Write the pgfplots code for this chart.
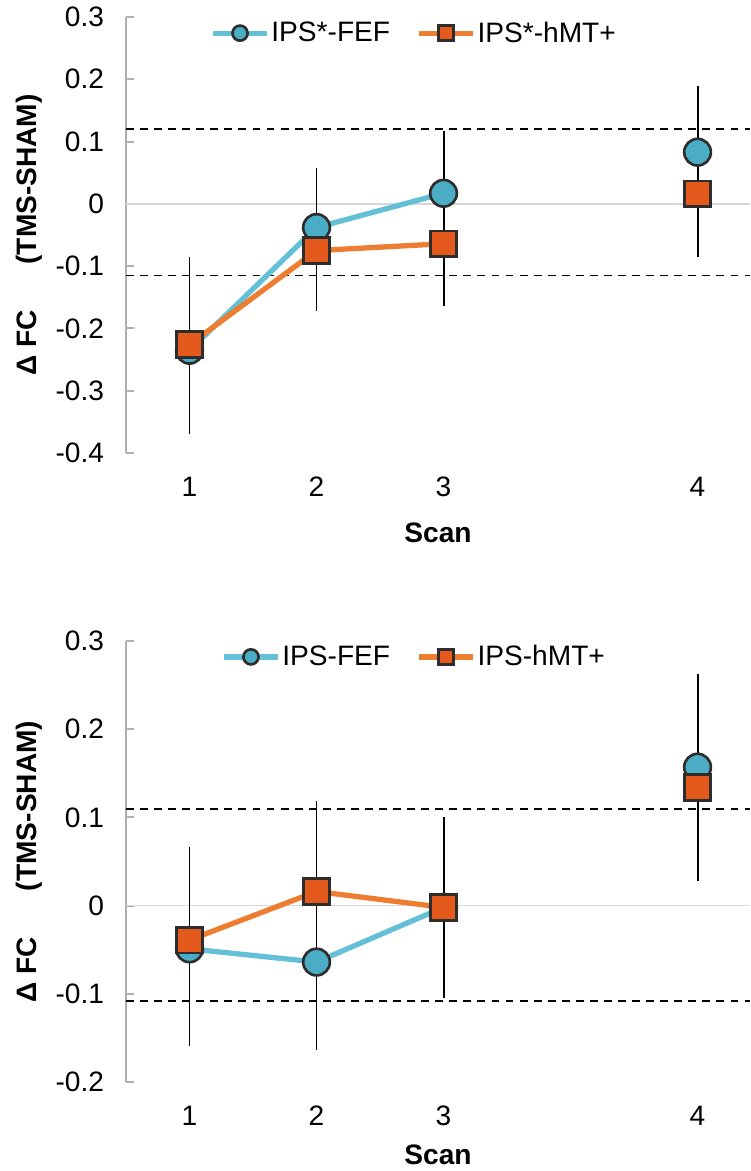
\documentclass[border=0pt]{standalone}
\usepackage{fontspec}
\setmainfont{Liberation Sans}
\usepackage{pgfplots}
\pgfplotsset{compat=1.18}
\definecolor{fefLine}{RGB}{99,192,214}
\definecolor{fefFill}{RGB}{75,172,198}
\definecolor{mtLine}{RGB}{237,125,49}
\definecolor{mtFill}{RGB}{228,90,28}
\definecolor{axGray}{RGB}{175,175,175}
\definecolor{zeroGray}{RGB}{215,215,215}
\definecolor{markEdge}{RGB}{45,45,45}

\pgfplotsset{
  scanpanel/.style={
    scale only axis,
    width=12.48cm,
    xmin=0.5, xmax=5.413,
    xtick={1,2,3,5}, xticklabels={1,2,3,4},
    axis lines*=left,
    x axis line style={draw=none},
    x tick style={draw=none},
    y axis line style={axGray, line width=1.2pt},
    y tick style={axGray, line width=1.2pt},
    tick align=inside,
    major tick length=4.5pt,
    tick label style={font=\fontsize{16}{19}\selectfont},
    yticklabel style={xshift=-9pt},
    xticklabel style={yshift=-10pt},
    every axis y label/.style={at={([xshift=-55pt]axis description cs:0,0.5)},
      anchor=center, rotate=90, font=\fontsize{16}{19}\selectfont\bfseries},
    ylabel={Δ FC\hspace{26pt}(TMS-SHAM)},
    xlabel={Scan},
    legend style={draw=none, fill=none, legend columns=2,
      font=\fontsize{16}{19}\selectfont,
      /tikz/every even column/.append style={column sep=14pt},
      nodes={inner xsep=1pt}},
    legend image code/.code={\draw[mark repeat=2,mark phase=2,#1]
      plot coordinates {(0cm,0cm) (0.54cm,0cm) (1.08cm,0cm)};},
    legend image post style={mark size=4.3pt},
    clip=false,
  },
  errs/.style={error bars/.cd, y dir=both, y explicit, error mark=none,
    error bar style={black, line width=1.1pt, solid}, /pgfplots/.cd},
  fefstyle/.style={fefLine, line width=3pt, mark=*, mark size=7.6pt,
    mark options={solid, fill=fefFill, draw=markEdge, line width=1.5pt}, errs},
  mtstyle/.style={mtLine, line width=3pt, mark=square*, mark size=7.3pt,
    mark options={solid, fill=mtFill, draw=markEdge, line width=1.5pt}, errs},
  refline/.style={black, line width=1.1pt, dash pattern=on 4.5pt off 3.5pt, forget plot},
  zeroline/.style={zeroGray, line width=1pt, forget plot},
}

\begin{document}
\begin{tikzpicture}
\useasboundingbox (0,0) rectangle (15,-23.42);

% upper panel
\begin{axis}[scanpanel,
  at={(2.52cm,-9.06cm)}, anchor=south west,
  height=8.72cm,
  ymin=-0.4, ymax=0.3,
  ytick={-0.4,-0.3,-0.2,-0.1,0,0.1,0.2,0.3},
  yticklabels={-0.4,-0.3,-0.2,-0.1,0,0.1,0.2,0.3},
  every axis x label/.style={at={([yshift=-45.5pt]axis description cs:0.5,0)},
    anchor=center, font=\fontsize{16}{19}\selectfont\bfseries},
  legend style={at={(0.4615,0.963)}, anchor=center},
]
\addplot[zeroline] coordinates {(0.5,0) (5.413,0)};
\addplot[refline] coordinates {(0.5,0.12) (5.413,0.12)};
\addplot[refline] coordinates {(0.5,-0.115) (5.413,-0.115)};
\addplot[fefstyle] coordinates {(1,-0.235) +- (0,0.134) (2,-0.038) +- (0,0.096) (3,0.017) +- (0,0.1)};
\addlegendentry{IPS*-FEF}
\addplot[mtstyle] coordinates {(1,-0.226) +- (0,0.14) (2,-0.075) +- (0,0.097) (3,-0.064) +- (0,0.1)};
\addlegendentry{IPS*-hMT+}
\addplot[fefstyle, forget plot] coordinates {(5,0.083) +- (0,0.107)};
\addplot[mtstyle, forget plot] coordinates {(5,0.016) +- (0,0.102)};
\end{axis}

% lower panel
\begin{axis}[scanpanel,
  at={(2.52cm,-21.64cm)}, anchor=south west,
  height=8.82cm,
  ymin=-0.2, ymax=0.3,
  ytick={-0.2,-0.1,0,0.1,0.2,0.3},
  yticklabels={-0.2,-0.1,0,0.1,0.2,0.3},
  every axis x label/.style={at={([yshift=-41.5pt]axis description cs:0.5,0)},
    anchor=center, font=\fontsize{16}{19}\selectfont\bfseries},
  legend style={at={(0.4615,0.964)}, anchor=center},
]
\addplot[zeroline] coordinates {(0.5,0) (5.413,0)};
\addplot[refline] coordinates {(0.5,0.11) (5.413,0.11)};
\addplot[refline] coordinates {(0.5,-0.108) (5.413,-0.108)};
\addplot[fefstyle] coordinates {(1,-0.049) +- (0,0.11) (2,-0.064) +- (0,0.1) (3,-0.002) +- (0,0.1)};
\addlegendentry{IPS-FEF}
\addplot[mtstyle] coordinates {(1,-0.039) +- (0,0.105) (2,0.016) +- (0,0.103) (3,-0.002) +- (0,0.103)};
\addlegendentry{IPS-hMT+}
\addplot[fefstyle, forget plot] coordinates {(5,0.157) +- (0,0.106)};
\addplot[mtstyle, forget plot] coordinates {(5,0.134) +- (0,0.106)};
\end{axis}
\end{tikzpicture}
\end{document}
